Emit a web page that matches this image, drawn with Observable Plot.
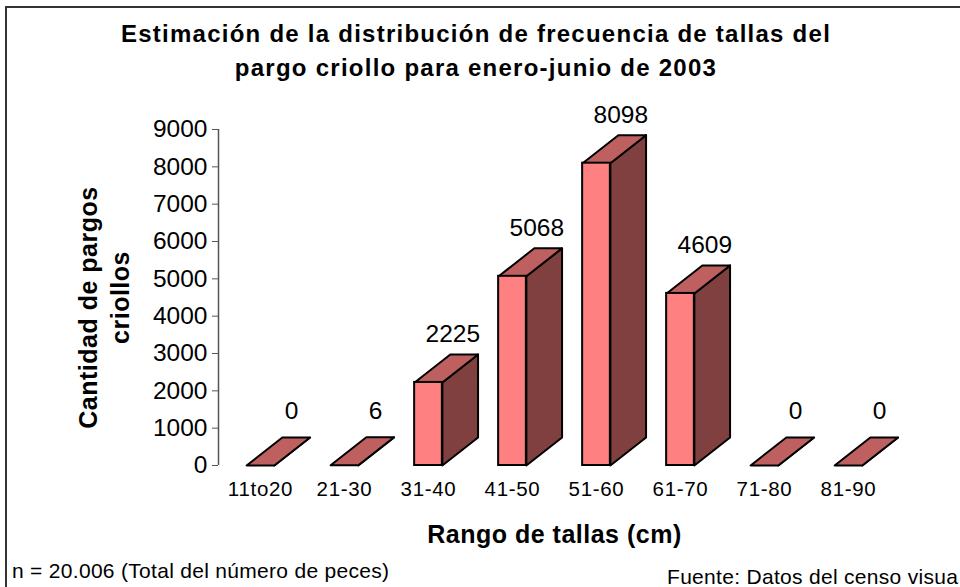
<!DOCTYPE html>
<html>
<head>
<meta charset="utf-8">
<script src="https://cdn.jsdelivr.net/npm/d3@7"></script>
<script src="https://cdn.jsdelivr.net/npm/@observablehq/plot@0.6"></script>
<style>
html,body{margin:0;padding:0;background:#fff;overflow:hidden}
#page{position:relative;width:960px;height:587px;font-family:"Liberation Sans",Arial,sans-serif;color:#000;overflow:hidden;box-sizing:border-box}
#frame{position:absolute;left:5px;top:6px;right:-10px;bottom:-10px;border-top:2px solid #333;border-left:2px solid #333}
#title{position:absolute;left:0;top:0;width:952px;height:100px;text-align:center;font-weight:bold;font-size:24px;line-height:34px;letter-spacing:1.25px;padding-top:17px;box-sizing:border-box}
#chart{position:absolute;left:0;top:100px}
#chart svg{background:transparent;overflow:visible}
#chart g[aria-label="x-axis tick label"] text{letter-spacing:.7px}
#chart g[font-weight="bold"] text{letter-spacing:.5px}
#note{position:absolute;left:12px;top:559px;font-size:21px;letter-spacing:.3px;white-space:nowrap}
#source{position:absolute;left:667px;top:565px;font-size:21px;letter-spacing:.3px;white-space:nowrap}
</style>
</head>
<body>
<div id="page">
<div id="frame"></div>
<div id="title">Estimación de la distribución de frecuencia de tallas del<br>pargo criollo para enero-junio de 2003</div>
<div id="chart"></div>
<div id="note">n = 20.006 (Total del número de peces)</div>
<div id="source">Fuente: Datos del censo visua</div>
</div>
<script>
const categories = ["11to20","21-30","31-40","41-50","51-60","61-70","71-80","81-90"];
const counts = [0,6,2225,5068,8098,4609,0,0];
const yTicks = [0,1000,2000,3000,4000,5000,6000,7000,8000,9000];

// Bar depth and half width, in data units
const halfW = 0.165, depthX = 0.425, depthY = 750;
const bars = categories.map((c,i)=>({c, v:counts[i], mid:i+0.5}));
const topFace = bars.flatMap((b,i)=>[
  {id:i,x:b.mid-halfW,y:b.v},{id:i,x:b.mid+halfW,y:b.v},
  {id:i,x:b.mid+halfW+depthX,y:b.v+depthY},{id:i,x:b.mid-halfW+depthX,y:b.v+depthY}
]);
const sideFace = bars.flatMap((b,i)=>[
  {id:i,x:b.mid+halfW,y:0},{id:i,x:b.mid+halfW,y:b.v},
  {id:i,x:b.mid+halfW+depthX,y:b.v+depthY},{id:i,x:b.mid+halfW+depthX,y:depthY}
]);

const plot = Plot.plot({
  width:960, height:450,
  marginLeft:218, marginRight:70, marginTop:29, marginBottom:85,
  x:{type:"linear",domain:[0,8]},
  y:{domain:[0,9000]},
  style:{fontFamily:'"Liberation Sans",Arial,sans-serif',color:"#000",background:"transparent"},
  marks:[
    Plot.ruleX([0],{y1:0,y2:9000,stroke:"#555",strokeWidth:1.5}),
    Plot.axisY({ticks:yTicks,tickSize:6,tickPadding:5,tickFormat:d=>String(d),label:null,fontSize:24.5,stroke:"#555",strokeOpacity:1}),
    Plot.axisX({ticks:bars.map(b=>b.mid),tickSize:0,tickPadding:16,tickFormat:d=>categories[Math.floor(d)],label:null,fontSize:20.5}),
    Plot.line(sideFace,{x:"x",y:"y",z:"id",curve:"linear-closed",fill:"#804040",stroke:"#000",strokeWidth:2,strokeLinejoin:"round"}),
    Plot.line(topFace,{x:"x",y:"y",z:"id",curve:"linear-closed",fill:"#BF6060",stroke:"#000",strokeWidth:2,strokeLinejoin:"round"}),
    Plot.rect(bars.filter(b=>b.v>10),{x1:b=>b.mid-halfW,x2:b=>b.mid+halfW,y1:0,y2:"v",fill:"#FF8080",stroke:"#000",strokeWidth:2}),
    Plot.text(bars,{x:b=>b.mid+(b.v<10?0.37:0.29),y:b=>b.v+depthY+(b.v<10?160:0),text:b=>String(b.v),dy:-20,fontSize:24.5,fill:"#000"}),
    Plot.text(["Cantidad de pargos"],{frameAnchor:"left",textAnchor:"middle",dx:-130,dy:10,rotate:-90,fontSize:25,fontWeight:"bold",fill:"#000"}),
    Plot.text(["criollos"],{frameAnchor:"left",textAnchor:"middle",dx:-98,rotate:-90,fontSize:25,fontWeight:"bold",fill:"#000"}),
    Plot.text(["Rango de tallas (cm)"],{frameAnchor:"bottom",dy:77,dx:0,fontSize:25,fontWeight:"bold",fill:"#000"})
  ]
});
document.getElementById("chart").appendChild(plot);
</script>
</body>
</html>
